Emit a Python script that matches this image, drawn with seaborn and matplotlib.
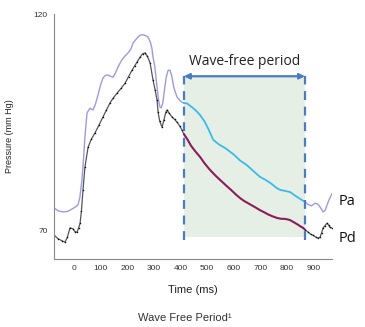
import matplotlib
matplotlib.use("Agg")
import matplotlib.pyplot as plt
import seaborn as sns

# ---- data ----
t_pa = [-75, -58, -41, -25, -15, 4, 15, 22, 30, 36, 41, 49, 60, 71, 80, 90, 100, 109, 118, 128,
        137, 147, 156, 165, 180, 192, 203, 213, 222, 235, 248, 259, 270, 278, 287, 293, 297, 304,
        312, 318, 323, 328, 334, 340, 347, 354, 361, 368, 375, 387, 398, 406, 413]
pa = [75.1, 74.4, 74.2, 74.3, 74.6, 75.3, 75.8, 77.5, 81.6, 86.5, 91.5, 97.1, 98.2, 97.8, 99.0,
      101.2, 103.6, 105.2, 105.8, 105.9, 105.6, 105.4, 106.4, 107.7, 109.4, 110.3, 111.0, 111.8,
      113.3, 114.3, 115.1, 115.2, 115.0, 114.7, 113.5, 112.0, 110.0, 107.7, 103.1, 100.0, 98.5,
      98.3, 99.5, 102.5, 105.5, 107.0, 107.0, 105.5, 103.0, 100.8, 100.0, 99.6, 99.4]
t_pa_wfp = [413, 425, 440, 456, 474, 490, 505, 523, 545, 570, 600, 624, 650, 675, 699, 720, 740,
            760, 774, 790, 812, 830, 850, 868]
pa_wfp = [99.4, 99.3, 98.6, 97.8, 96.6, 95.2, 93.4, 90.9, 89.8, 88.9, 87.5, 86.1, 85.0, 83.6, 82.3,
          81.6, 80.8, 79.8, 79.3, 79.1, 78.8, 78.0, 77.2, 76.5]
t_pa_end = [868, 880, 892, 906, 916, 925, 936, 944, 951, 957, 962, 970]
pa_end = [76.5, 75.9, 75.6, 76.2, 76.0, 75.3, 74.2, 74.6, 75.8, 76.8, 77.5, 78.5]

t_pd = [-75, -60, -45, -34, -25, -15, -4, 4, 11, 17, 23, 28, 34, 41, 53, 65, 79, 94, 109, 122,
        135, 148, 162, 177, 192, 205, 218, 228, 237, 248, 258, 267, 276, 286, 297, 305, 312, 316,
        322, 331, 338, 345, 350, 358, 368, 378, 387, 398, 405, 413]
pd_ = [68.8, 68.0, 67.5, 67.2, 68.3, 70.5, 70.3, 69.6, 69.5, 70.4, 71.6, 74.5, 79.3, 84.5, 89.2,
       91.0, 92.5, 94.3, 96.2, 97.8, 99.4, 100.6, 101.7, 102.8, 104.0, 105.5, 107.0, 108.0, 108.9,
       110.0, 110.8, 111.0, 110.2, 108.7, 104.7, 102.4, 100.1, 97.3, 95.2, 93.8, 95.5, 97.3, 97.8,
       97.0, 96.2, 95.6, 95.0, 94.0, 93.2, 92.2]
t_pd_wfp = [413, 425, 440, 456, 474, 490, 510, 530, 549, 570, 590, 607, 624, 640, 660, 680, 699,
            715, 730, 745, 763, 778, 790, 800, 812, 826, 840, 852, 861, 868]
pd_wfp = [92.2, 91.1, 89.5, 88.2, 86.9, 85.5, 84.0, 82.7, 81.6, 80.4, 79.3, 78.3, 77.4, 76.7, 76.0,
          75.3, 74.6, 74.1, 73.6, 73.2, 72.8, 72.6, 72.6, 72.5, 72.3, 71.8, 71.3, 70.8, 70.5, 70.1]
t_pd_end = [868, 880, 890, 898, 908, 917, 925, 930, 936, 943, 951, 957, 962, 970]
pd_end = [70.1, 69.5, 69.0, 68.8, 68.4, 68.1, 68.4, 69.3, 70.5, 71.0, 71.6, 71.1, 70.6, 70.5]

x_ticks = [0, 100, 200, 300, 400, 500, 600, 700, 800, 900]
y_ticks = [70, 95, 120]
y_tick_labels = ["70", "", "120"]
wfp_start, wfp_end = 413, 868

sns.set_theme(style="white")
plt.rcParams['font.family'] = ['Liberation Sans', 'DejaVu Sans']

fig = plt.figure(figsize=(3.65, 3.27), dpi=100)
ax = fig.add_axes([0.148, 0.208, 0.762, 0.749])

# shaded wave-free period
ax.fill_between([wfp_start, wfp_end], 68.4, 106.0, color="#e5efe5", zorder=0, linewidth=0)

lav = "#9c9be0"
sns.lineplot(x=t_pa, y=pa, ax=ax, color=lav, linewidth=1.0, sort=False)
sns.lineplot(x=t_pa_end, y=pa_end, ax=ax, color=lav, linewidth=1.0, sort=False)
sns.lineplot(x=t_pa_wfp, y=pa_wfp, ax=ax, color="#3bb9ea", linewidth=1.3, sort=False)

sns.lineplot(x=t_pd, y=pd_, ax=ax, color="#555555", linewidth=0.9, sort=False,
             marker=".", markersize=2.2, markeredgewidth=0, markerfacecolor="#111111")
sns.lineplot(x=t_pd_end, y=pd_end, ax=ax, color="#555555", linewidth=0.9, sort=False,
             marker=".", markersize=2.2, markeredgewidth=0, markerfacecolor="#111111")
sns.lineplot(x=t_pd_wfp, y=pd_wfp, ax=ax, color="#8a1c5c", linewidth=1.5, sort=False)

# dashed boundaries
for xv in (wfp_start, wfp_end):
    ax.plot([xv, xv], [67.7, 105.6], color="#4a7cc4", linestyle=(0, (4, 3)), linewidth=1.6, zorder=5)
ax.annotate("", xy=(wfp_end, 105.6), xytext=(wfp_start, 105.6),
            arrowprops=dict(arrowstyle="<|-|>", color="#4a7cc4", lw=1.6, mutation_scale=8,
                            shrinkA=0, shrinkB=0), zorder=6)
ax.text((wfp_start + wfp_end) / 2, 107.3, "Wave-free period", ha="center", va="bottom",
        fontsize=10, color="#222222", family=["Open Sans", "DejaVu Sans"])

ax.text(993, 76.7, "Pa", ha="left", va="center", fontsize=10.5, color="#111111",
        family=["Open Sans", "DejaVu Sans"], clip_on=False)
ax.text(993, 68.0, "Pd", ha="left", va="center", fontsize=10.5, color="#111111",
        family=["Open Sans", "DejaVu Sans"], clip_on=False)

ax.set_xlim(-75, 970)
ax.set_ylim(63.3, 120)
ax.set_xticks(x_ticks)
ax.set_xticklabels([str(v) for v in x_ticks])
ax.set_yticks(y_ticks)
ax.set_yticklabels(y_tick_labels)
ax.tick_params(axis="both", labelsize=6, colors="#555555", length=2.5, width=0.6, direction="out",
               pad=2)
ax.tick_params(axis="both", labelcolor="#333333")
for s in ("top", "right"):
    ax.spines[s].set_visible(False)
for s in ("left", "bottom"):
    ax.spines[s].set_color("#888888")
    ax.spines[s].set_linewidth(0.8)

ax.set_xlabel("Time (ms)", fontsize=8, color="#222222", labelpad=9)
ax.set_ylabel("Pressure (mm Hg)", fontsize=6.5, color="#222222", labelpad=14)

fig.text(0.507, 0.028, "Wave Free Period\u00b9", ha="center", va="center", fontsize=8,
         color="#333333")

fig.savefig("out.png", dpi=100)
